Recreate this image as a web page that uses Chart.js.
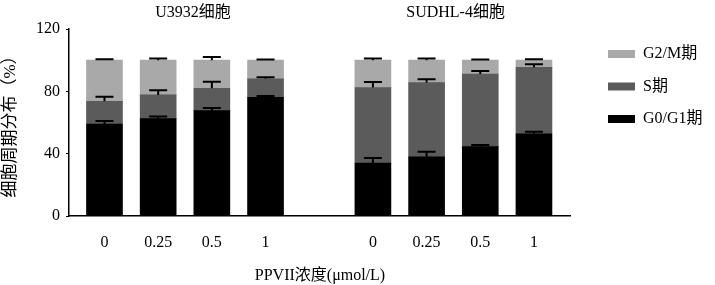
<!DOCTYPE html>
<html>
<head>
<meta charset="utf-8">
<script src="https://cdn.jsdelivr.net/npm/chart.js@4"></script>
<style>
  html, body { margin: 0; padding: 0; background: #fff; }
  #wrap { width: 715px; height: 285px; }
</style>
</head>
<body>
<div id="wrap"><canvas id="cycleChart"></canvas></div>
<script>
// 데이터
const groups = ['U3932细胞', 'SUDHL-4细胞'];
const doses = ['0', '0.25', '0.5', '1'];
const seriesNames = ['G0/G1期', 'S期', 'G2/M期'];

// 각 그룹 4개 농도 (U3932 -> SUDHL-4 순서)
const g0g1 = [59, 62.5, 67.6, 76.2, 34, 38, 44.5, 52.8];
const sPhase = [14.6, 15.2, 14.4, 11.9, 48.4, 47.6, 46.6, 42.6];
const g2m = [26.4, 22.3, 18.0, 11.9, 17.6, 14.4, 8.9, 4.6];

const g0g1Err = [2, 1.3, 1.7, 0.8, 3.2, 3.3, 1.1, 1.3];
const sErr = [3, 3, 4.2, 0.9, 3.6, 2.1, 1.9, 1.9];
const g2mErr = [0.6, 1, 2, 0.5, 1, 1, 0.5, 0.6];

const yTicks = [0, 40, 80, 120];

const FONT = "'Liberation Serif', 'Noto Sans CJK SC', serif";

// 그룹 사이에 빈 칸 하나
function xPos(i) {
    return Math.floor(i / doses.length) * (doses.length + 1) + (i % doses.length) + 1;
}
const xTickValues = g0g1.map((v, i) => xPos(i));

function toPoints(arr) {
    return arr.map((v, i) => ({ x: xPos(i), y: v }));
}

const allSeries = [g0g1, sPhase, g2m];
const allErr = [g0g1Err, sErr, g2mErr];
const colors = ['#000000', '#5b5b5b', '#a9a9a9'];

/** 에러바 */
const errorBars = {
    id: 'errorBars',
    afterDatasetsDraw(chart) {
        const ctx = chart.ctx;
        const y = chart.scales.y;
        ctx.save();
        ctx.strokeStyle = '#000';
        ctx.lineWidth = 2;
        allSeries.forEach((series, d) => {
            const meta = chart.getDatasetMeta(d);
            meta.data.forEach((bar, j) => {
                let cum = 0;
                for (let k = 0; k <= d; k++) cum += allSeries[k][j];
                const top = y.getPixelForValue(cum + allErr[d][j]);
                ctx.beginPath();
                ctx.moveTo(bar.x, bar.y);
                ctx.lineTo(bar.x, top);
                ctx.moveTo(bar.x - 9, top);
                ctx.lineTo(bar.x + 9, top);
                ctx.stroke();
            });
        });
        ctx.restore();
    }
};

/** 그룹 제목 */
const groupTitles = {
    id: 'groupTitles',
    afterDraw(chart) {
        const ctx = chart.ctx;
        const x = chart.scales.x;
        const centers = [2.65, 7.54];
        ctx.save();
        ctx.font = '16px ' + FONT;
        ctx.fillStyle = '#000';
        ctx.textAlign = 'center';
        ctx.textBaseline = 'middle';
        groups.forEach((g, i) => {
            ctx.fillText(g, x.getPixelForValue(centers[i]), 13);
        });
        ctx.restore();
    }
};

/** 범례 위치 조정 */
const legendShift = {
    id: 'legendShift',
    afterLayout(chart) {
        const lg = chart.legend;
        const pad = lg.options.labels.padding;
        lg.left = 608 - pad;
        lg.right = 715;
        lg.top = 46 - pad;
        lg.bottom = 285;
    }
};

const ctx = document.getElementById('cycleChart');

new Chart(ctx, {
    type: 'bar',
    plugins: [errorBars, groupTitles, legendShift],
    data: {
        datasets: allSeries.map((series, d) => ({
            label: seriesNames[d],
            data: toPoints(series),
            backgroundColor: colors[d],
            borderWidth: 0,
            barThickness: 36,
        }))
    },
    options: {
        responsive: true,
        maintainAspectRatio: false,
        animation: false,
        layout: {
            padding: { top: 29, right: 23, bottom: 0, left: 0 }
        },
        plugins: {
            legend: {
                position: 'right',
                align: 'start',
                reverse: true,
                maxWidth: 143,
                labels: {
                    boxWidth: 27,
                    boxHeight: 8,
                    padding: 16.5,
                    color: '#000',
                    font: { family: FONT, size: 16 }
                }
            },
            tooltip: { enabled: false }
        },
        scales: {
            x: {
                type: 'linear',
                stacked: true,
                offset: false,
                min: 0.339,
                max: 9.689,
                afterBuildTicks(scale) {
                    scale.ticks = xTickValues.map(v => ({ value: v }));
                },
                afterFit(scale) {
                    scale.height = 69;
                },
                grid: { display: false, drawTicks: false },
                border: { display: true, color: '#000', width: 1.5 },
                ticks: {
                    padding: 17,
                    color: '#000',
                    font: { family: FONT, size: 16 },
                    callback: function (value) {
                        const i = xTickValues.indexOf(value);
                        return i < 0 ? '' : doses[i % doses.length];
                    }
                },
                title: {
                    display: true,
                    text: 'PPVII浓度(μmol/L)',
                    color: '#000',
                    font: { family: FONT, size: 16 },
                    padding: { top: 0, bottom: 0 }
                }
            },
            y: {
                stacked: true,
                min: 0,
                max: 120,
                afterBuildTicks(scale) {
                    scale.ticks = yTicks.map(v => ({ value: v }));
                },
                afterFit(scale) {
                    scale.width = 69;
                },
                grid: {
                    display: true,
                    drawOnChartArea: false,
                    drawTicks: true,
                    tickLength: 3,
                    color: '#000',
                    lineWidth: 1
                },
                border: { display: true, color: '#000', width: 1.5 },
                ticks: {
                    padding: 6,
                    color: '#000',
                    font: { family: FONT, size: 16 }
                },
                title: {
                    display: true,
                    text: '细胞周期分布（%）',
                    color: '#000',
                    font: { family: FONT, size: 17 },
                    padding: { top: 0, bottom: 0 }
                }
            }
        }
    }
});
</script>
</body>
</html>
